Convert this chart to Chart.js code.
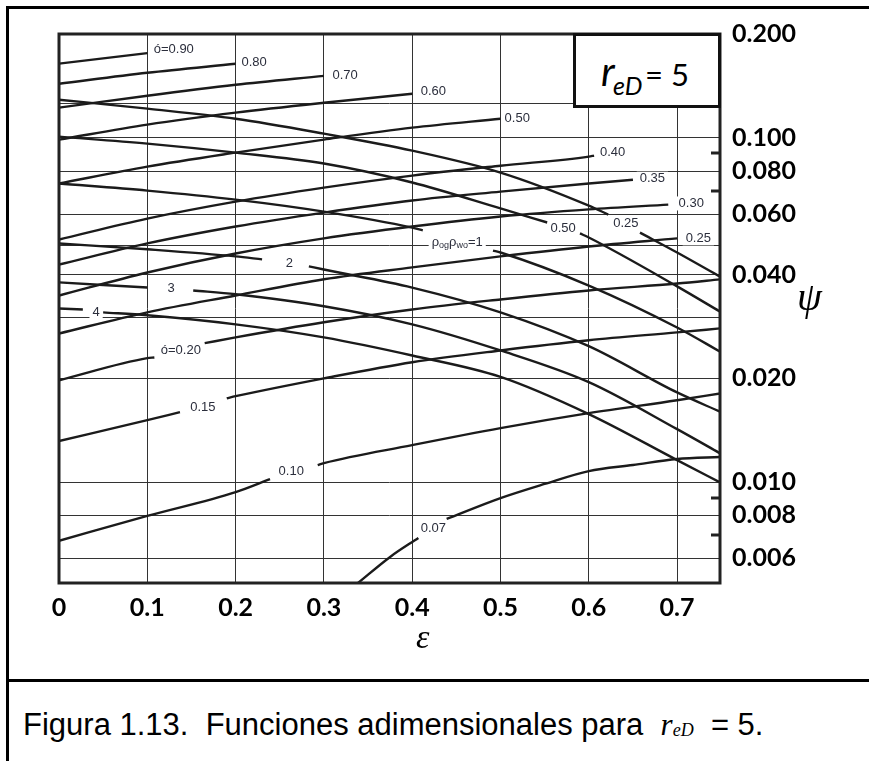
<!DOCTYPE html>
<html>
<head>
<meta charset="utf-8">
<script src="https://cdn.jsdelivr.net/npm/chart.js@4.4.1/dist/chart.umd.min.js"></script>
<style>
html, body { margin: 0; padding: 0; background: #fff; }
body { width: 869px; height: 761px; position: relative; overflow: hidden; }
.frame { position: absolute; left: 6px; top: 6px; width: 900px; height: 800px; border-left: 3px solid #000; border-top: 3px solid #000; }
.sep { position: absolute; left: 6px; top: 679px; width: 870px; height: 3px; background: #000; }
#wrap { position: absolute; left: 0; top: 0; width: 869px; height: 678px; }
.t { position: absolute; line-height: 1; white-space: pre; color: #000; }
.reD { position: absolute; left: 573px; top: 33px; width: 148px; height: 75px; box-sizing: border-box; border: 3px solid #111; background: #fff; }
</style>
</head>
<body>
<div class="frame"></div>
<div class="sep"></div>
<div id="wrap"><canvas id="chart" width="869" height="678"></canvas></div>

<div class="reD"></div>
<span class="t" style="left:601px; top:47px; font:italic 40px Lato, sans-serif;">r</span>
<span class="t" style="left:613px; top:70px; font:italic 25px Lato, sans-serif;">eD</span>
<span class="t" style="left:645px; top:55px; font:31px Lato, sans-serif;">= 5</span>

<span class="t" style="left:797px; top:273px; font:italic 40px 'Liberation Serif', serif;">ψ</span>
<span class="t" style="left:416px; top:618px; font:italic 34px 'Liberation Serif', serif;">ε</span>

<span class="t" id="capA" style="left:23px; top:707px; font:31px 'Liberation Sans', Arial, sans-serif;">Figura 1.13.  Funciones adimensionales para  </span>
<span class="t" id="capR" style="top:707px; font:italic 31px 'Liberation Serif', serif;">r</span>
<span class="t" id="capSub" style="top:720px; font:italic 18px 'Liberation Serif', serif;">eD</span>
<span class="t" id="capEnd" style="top:707px; font:31px 'Liberation Sans', Arial, sans-serif;">  = 5.</span>

<script>
// ---- axis ticks / grid ----
const epsTicks = [0, 0.1, 0.2, 0.3, 0.4, 0.5, 0.6, 0.7];
const psiGrid = [0.2, 0.126, 0.1, 0.08, 0.06, 0.0485, 0.04, 0.03, 0.02, 0.01, 0.008, 0.006];
const psiTickLabels = [0.2, 0.1, 0.08, 0.06, 0.04, 0.02, 0.01, 0.008, 0.006];
const psiMinorMarks = [0.09, 0.07, 0.009, 0.007];

// ---- rising curves (constant phi) ----
const epsPhi090 = [0, 0.10];
const psiPhi090 = [0.164, 0.176];
const epsPhi080 = [0, 0.1, 0.2];
const psiPhi080 = [0.1434, 0.1543, 0.1639];
const epsPhi070 = [0, 0.1, 0.2, 0.3];
const psiPhi070 = [0.1222, 0.1324, 0.1424, 0.1512];
const epsPhi060 = [0, 0.1, 0.2, 0.3, 0.4];
const psiPhi060 = [0.0987, 0.1091, 0.1182, 0.1263, 0.1341];
const epsPhi050 = [0, 0.1, 0.2, 0.3, 0.4, 0.5];
const psiPhi050 = [0.0736, 0.0824, 0.0905, 0.0987, 0.1069, 0.1135];
const epsPhi040 = [0, 0.1, 0.2, 0.3, 0.4, 0.5, 0.6, 0.606];
const psiPhi040 = [0.0506, 0.0582, 0.0652, 0.0716, 0.0776, 0.0829, 0.0881, 0.0887];
const epsPhi035 = [0, 0.1, 0.2, 0.3, 0.4, 0.5, 0.6, 0.65];
const psiPhi035 = [0.0428, 0.0493, 0.0552, 0.0606, 0.0657, 0.0697, 0.0736, 0.0755];
const epsPhi030 = [0, 0.1, 0.2, 0.3, 0.4, 0.5, 0.6, 0.69];
const psiPhi030 = [0.0348, 0.0406, 0.0461, 0.0510, 0.0552, 0.0590, 0.0619, 0.0639];
const epsPhi025 = [0, 0.1, 0.2, 0.3, 0.4, 0.5, 0.6, 0.7];
const psiPhi025 = [0.0270, 0.0311, 0.0348, 0.0388, 0.0420, 0.0452, 0.0483, 0.0510];
const epsPhi020 = [0, 0.1, 0.108, 0.136, 0.165, 0.2, 0.3, 0.4, 0.5, 0.6, 0.7, 0.75];
const psiPhi020 = [0.01975, 0.0229, 0.0230, null, 0.0253, 0.0263, 0.0291, 0.0317, 0.0339, 0.0360, 0.0377, 0.0388];
const epsPhi015 = [0, 0.1, 0.137, 0.163, 0.19, 0.2, 0.3, 0.4, 0.5, 0.6, 0.7, 0.75];
const psiPhi015 = [0.01315, 0.01512, 0.01595, null, 0.01751, 0.01775, 0.0200, 0.02228, 0.0241, 0.0258, 0.0272, 0.02795];
const epsPhi010 = [0, 0.1, 0.2, 0.239, 0.266, 0.293, 0.3, 0.4, 0.5, 0.6, 0.7, 0.75];
const psiPhi010 = [0.00675, 0.00797, 0.00935, 0.0102, null, 0.0112, 0.01135, 0.0128, 0.01434, 0.01585, 0.01728, 0.0181];
const epsPhi007 = [0.3386, 0.375, 0.407, 0.423, 0.439, 0.5, 0.55, 0.6, 0.65, 0.7, 0.75];
const psiPhi007 = [0.00509, 0.00606, 0.00688, null, 0.00781, 0.00898, 0.00987, 0.01076, 0.0112, 0.01166, 0.01182];

// ---- falling curves (constant rho_og*rho_wo) ----
const epsRho025 = [0, 0.1, 0.2, 0.3, 0.4, 0.5, 0.6, 0.622, 0.64, 0.658, 0.7, 0.75];
const psiRho025 = [0.1289, 0.1214, 0.1135, 0.1027, 0.0917, 0.0792, 0.0635, 0.0598, null, 0.0530, 0.0464, 0.0393];
const epsRho050 = [0, 0.1, 0.2, 0.3, 0.4, 0.5, 0.553, 0.57, 0.59, 0.6, 0.7, 0.75];
const psiRho050 = [0.1007, 0.0961, 0.0905, 0.0841, 0.0741, 0.0623, 0.0567, null, 0.0527, 0.0513, 0.0370, 0.0311];
const epsRho1 = [0, 0.1, 0.2, 0.3, 0.4, 0.412, 0.45, 0.4915, 0.5, 0.6, 0.7, 0.75];
const psiRho1 = [0.0736, 0.0702, 0.0661, 0.0610, 0.0548, 0.0538, null, 0.0470, 0.0464, 0.0372, 0.0281, 0.0238];
const epsRho2 = [0, 0.1, 0.2, 0.23, 0.26, 0.283, 0.3, 0.4, 0.5, 0.6, 0.7, 0.75];
const psiRho2 = [0.0493, 0.0474, 0.0452, 0.0443, null, 0.0423, 0.0414, 0.0367, 0.0311, 0.0248, 0.0182, 0.01595];
const epsRho3 = [0, 0.1, 0.125, 0.152, 0.2, 0.3, 0.4, 0.5, 0.6, 0.7, 0.75];
const psiRho3 = [0.0380, 0.0367, null, 0.0360, 0.0351, 0.0324, 0.0287, 0.0241, 0.0195, 0.01424, 0.01206];
const epsRho4 = [0, 0.027, 0.04, 0.05, 0.1, 0.2, 0.3, 0.4, 0.5, 0.6, 0.7, 0.75];
const psiRho4 = [0.0319, 0.0317, null, 0.0311, 0.0305, 0.0287, 0.0263, 0.0233, 0.0202, 0.01575, 0.01158, 0.00993];

// ---- curve labels ----
const labelText = ['ó=0.90', '0.80', '0.70', '0.60', '0.50', '0.40', '0.35', '0.30', '0.25',
  'ó=0.20', '0.15', '0.10', '0.07', 'ρ_{og}ρ_{wo}=1', '2', '3', '4', '0.50', '0.25'];
const labelEps = [0.130, 0.221, 0.324, 0.424, 0.519, 0.627, 0.672, 0.716, 0.724,
  0.138, 0.163, 0.263, 0.424, 0.451, 0.261, 0.127, 0.042, 0.571, 0.642];
const labelPsi = [0.180, 0.165, 0.152, 0.136, 0.114, 0.0905, 0.0760, 0.0644, 0.0510,
  0.0241, 0.0165, 0.01076, 0.00731, 0.0497, 0.0431, 0.0365, 0.0311, 0.0545, 0.0563];

const curves = [
  [epsPhi090, psiPhi090], [epsPhi080, psiPhi080], [epsPhi070, psiPhi070], [epsPhi060, psiPhi060],
  [epsPhi050, psiPhi050], [epsPhi040, psiPhi040], [epsPhi035, psiPhi035], [epsPhi030, psiPhi030],
  [epsPhi025, psiPhi025], [epsPhi020, psiPhi020], [epsPhi015, psiPhi015], [epsPhi010, psiPhi010],
  [epsPhi007, psiPhi007],
  [epsRho025, psiRho025], [epsRho050, psiRho050], [epsRho1, psiRho1], [epsRho2, psiRho2],
  [epsRho3, psiRho3], [epsRho4, psiRho4]
];

const pts = (eps, psi) => eps.map((e, i) => ({x: e, y: psi[i]}));

// split "ρ_{og}" style text into normal / subscript pieces
const pieces = (txt) => {
  const out = [];
  const re = /_\{([^}]*)\}|([^_]+)/g;
  let m;
  while ((m = re.exec(txt)) !== null) {
    if (m[1] !== undefined) out.push({t: m[1], sub: true});
    else out.push({t: m[2], sub: false});
  }
  return out;
};

const overlay = {
  id: 'overlay',
  afterDatasetsDraw(chart) {
    const {ctx, chartArea: a, scales: {x, y}} = chart;
    ctx.save();
    // short marks inside the right edge
    ctx.strokeStyle = '#222';
    ctx.lineWidth = 3;
    psiMinorMarks.forEach(v => {
      const py = Math.round(y.getPixelForValue(v));
      ctx.beginPath();
      ctx.moveTo(a.right - 9, py);
      ctx.lineTo(a.right, py);
      ctx.stroke();
    });
    // curve labels with white boxes
    const mainFont = '13px "Liberation Sans", Arial, sans-serif';
    const subFont = '9px "Liberation Sans", Arial, sans-serif';
    ctx.textBaseline = 'middle';
    ctx.textAlign = 'left';
    labelText.forEach((txt, i) => {
      const cx = x.getPixelForValue(labelEps[i]);
      const cy = y.getPixelForValue(labelPsi[i]);
      const parts = pieces(txt);
      let w = 0;
      parts.forEach(p => { ctx.font = p.sub ? subFont : mainFont; p.w = ctx.measureText(p.t).width; w += p.w; });
      ctx.fillStyle = '#fff';
      ctx.fillRect(cx - w / 2 - 3, cy - 7, w + 6, 14);
      ctx.fillStyle = '#2b2e3c';
      let px = cx - w / 2;
      parts.forEach(p => {
        ctx.font = p.sub ? subFont : mainFont;
        ctx.fillText(p.t, px, p.sub ? cy + 3 : cy);
        px += p.w;
      });
    });
    // plot frame
    ctx.strokeStyle = '#222';
    ctx.lineWidth = 3;
    ctx.strokeRect(a.left, a.top, a.right - a.left, a.bottom - a.top);
    ctx.restore();
  }
};

new Chart(document.getElementById('chart'), {
  type: 'line',
  data: {
    datasets: curves.map(c => ({
      data: pts(c[0], c[1]),
      borderColor: '#1b1b1b',
      borderWidth: 2.4,
      pointRadius: 0,
      cubicInterpolationMode: 'monotone',
      spanGaps: false,
      fill: false
    }))
  },
  options: {
    responsive: false,
    animation: false,
    layout: {padding: {left: 59, top: 34, right: 0, bottom: 0}},
    plugins: {legend: {display: false}, tooltip: {enabled: false}},
    scales: {
      x: {
        type: 'linear', position: 'bottom', min: 0, max: 0.7486, bounds: 'data',
        afterBuildTicks: s => { s.ticks = epsTicks.map(v => ({value: v})); },
        afterFit: s => { s.height = 95; },
        border: {display: false},
        grid: {color: '#333', lineWidth: 1, drawTicks: false},
        ticks: {
          padding: 10, color: '#000', autoSkip: false, maxRotation: 0,
          font: {family: 'Lato', size: 25, weight: 'bold'},
          callback: v => v === 0 ? '0' : v.toFixed(1)
        }
      },
      y: {
        type: 'logarithmic', position: 'right', min: 0.00509, max: 0.2, bounds: 'data',
        afterBuildTicks: s => { s.ticks = psiGrid.concat(psiMinorMarks).map(v => ({value: v})); },
        afterFit: s => { s.width = 149; },
        border: {display: false},
        grid: {
          lineWidth: 1, drawTicks: false,
          color: c => (c.tick && psiMinorMarks.includes(c.tick.value)) ? 'rgba(0,0,0,0)' : '#333'
        },
        ticks: {
          padding: 12, color: '#000', autoSkip: false,
          font: {family: 'Lato', size: 25, weight: 'bold'},
          callback: v => psiTickLabels.includes(v) ? v.toFixed(3) : ''
        }
      }
    }
  },
  plugins: [overlay]
});

// place the italic r_eD of the caption right after the text
(() => {
  const first = document.getElementById('capA');
  const r = document.getElementById('capR');
  const sub = document.getElementById('capSub');
  const end = document.getElementById('capEnd');
  const x0 = 23 + first.getBoundingClientRect().width;
  r.style.left = x0 + 'px';
  const x1 = x0 + r.getBoundingClientRect().width;
  sub.style.left = x1 + 'px';
  end.style.left = (x1 + sub.getBoundingClientRect().width) + 'px';
})();
</script>
</body>
</html>
